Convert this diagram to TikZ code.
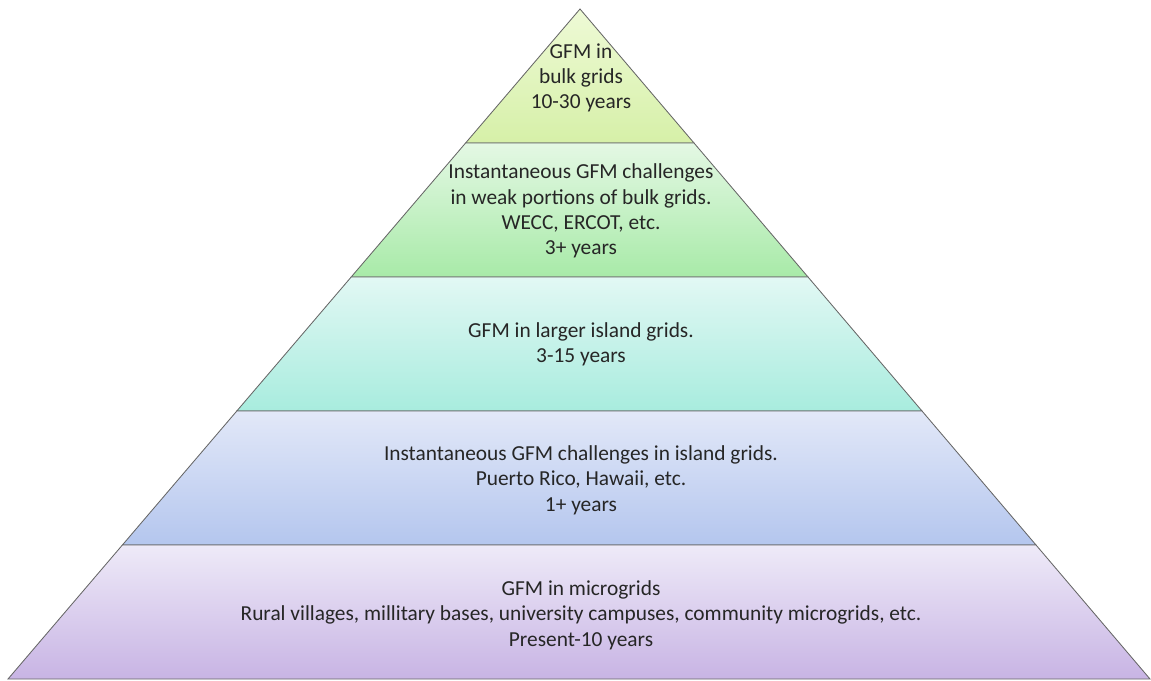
\documentclass[tikz,border=0pt]{standalone}
\usepackage{fontspec}
\setmainfont{Carlito}
\usetikzlibrary{calc}

\definecolor{bulkTop}{RGB}{238,250,214}
\definecolor{bulkBot}{RGB}{214,240,168}
\definecolor{weakTop}{RGB}{228,248,228}
\definecolor{weakBot}{RGB}{168,234,168}
\definecolor{isleTop}{RGB}{226,248,244}
\definecolor{isleBot}{RGB}{168,236,222}
\definecolor{instTop}{RGB}{226,232,248}
\definecolor{instBot}{RGB}{180,198,238}
\definecolor{microTop}{RGB}{238,234,248}
\definecolor{microBot}{RGB}{200,180,228}

\begin{document}
\begin{tikzpicture}[x=0.025cm, y=-0.025cm,
    layer/.style={draw=black!60, line width=0.6pt},
    caption/.style={align=center, text=black!85,
        font=\fontsize{15.2}{18}\selectfont}]
    \useasboundingbox (0,0) rectangle (1151,681);
    \coordinate (apex) at (580,9);
    \coordinate (bl) at (8,679);
    \coordinate (br) at (1150,679);
    % layers, from the apex down
    \foreach \a/\b/\ctop/\cbot in {0/0.2/bulkTop/bulkBot, 0.2/0.4/weakTop/weakBot,
        0.4/0.6/isleTop/isleBot, 0.6/0.8/instTop/instBot, 0.8/1/microTop/microBot}
        \shade[layer, top color=\ctop, bottom color=\cbot]
            ($(apex)!\a!(bl)$) -- ($(apex)!\b!(bl)$) -- ($(apex)!\b!(br)$) -- ($(apex)!\a!(br)$) -- cycle;

    \node[caption] (bulk) at (581,78) {GFM in\\bulk grids\\10-30 years};
    \node[caption] (weak) at (581,211) {Instantaneous GFM challenges\\in weak portions of bulk grids.\\WECC, ERCOT, etc.\\3+ years};
    \node[caption] (isle) at (581,344) {GFM in larger island grids.\\3-15 years};
    \node[caption] (inst) at (581,480) {Instantaneous GFM challenges in island grids.\\Puerto Rico, Hawaii, etc.\\1+ years};
    \node[caption] (micro) at (581,615) {GFM in microgrids\\Rural villages, millitary bases, university campuses, community microgrids, etc.\\Present-10 years};
\end{tikzpicture}
\end{document}
